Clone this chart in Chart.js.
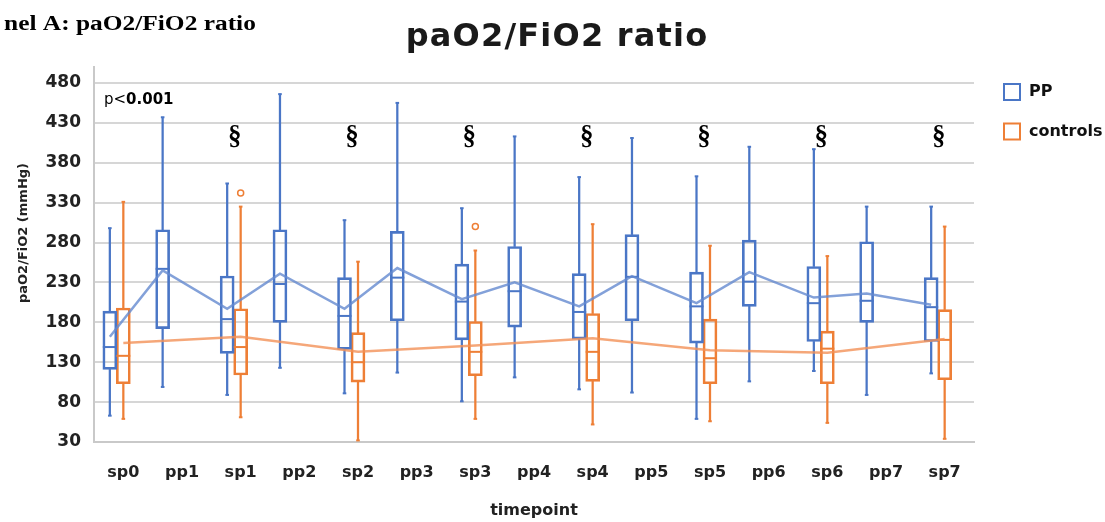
<!DOCTYPE html>
<html>
<head>
<meta charset="utf-8">
<script src="https://cdn.jsdelivr.net/npm/chart.js@4/dist/chart.umd.min.js"></script>
<style>
  body { margin: 0; background: #fff; }
  canvas { display: block; }
</style>
</head>
<body>
<canvas id="ratio-chart" width="1105" height="522"></canvas>
<script>
const timepoints = ["sp0", "pp1", "sp1", "pp2", "sp2", "pp3", "sp3", "pp4", "sp4", "pp5", "sp5", "pp6", "sp6", "pp7", "sp7"];

// PP group, one value per timepoint
const ppMin = [63, 99, 89, 123, 91, 117, 81, 111, 96, 92, 59, 106, 119, 89, 116];
const ppQ1 = [121, 172, 141, 180, 146, 182, 158, 174, 159, 182, 154, 200, 156, 180, 156];
const ppMedian = [149, 247, 184, 228, 188, 236, 206, 219, 193, 237, 200, 231, 204, 207, 199];
const ppQ3 = [194, 296, 238, 296, 236, 294, 253, 275, 241, 290, 243, 283, 250, 281, 236];
const ppMax = [298, 437, 354, 466, 308, 455, 323, 413, 362, 411, 363, 400, 397, 325, 325];
const ppMean = [162, 245, 197, 241, 197, 248, 209, 230, 200, 238, 204, 243, 211, 216, 202];

// controls, only at the sp timepoints
const ctrlTimepoints = ["sp0", "sp1", "sp2", "sp3", "sp4", "sp5", "sp6", "sp7"];
const ctrlMin = [59, 61, 32, 59, 52, 56, 54, 34];
const ctrlQ1 = [103, 114, 105, 113, 106, 103, 103, 108];
const ctrlMedian = [138, 149, 130, 143, 143, 135, 147, 158];
const ctrlQ3 = [198, 197, 167, 181, 191, 184, 169, 196];
const ctrlMax = [331, 325, 256, 270, 303, 276, 263, 300];
const ctrlMean = [154, 162, 143, 151, 160, 145, 142, 159];

const outlierTimepoints = ["sp1", "sp3"];
const outlierValues = [342, 300];

const sigTimepoints = ["sp1", "sp2", "sp3", "sp4", "sp5", "sp6", "sp7"];
const yTicks = [30, 80, 130, 180, 230, 280, 330, 380, 430, 480];

const BLUE = "#4a76c6";
const ORANGE = "#ee7f36";
const BLUE_LINE = "rgba(100, 138, 208, 0.8)";
const ORANGE_LINE = "rgba(242, 145, 88, 0.8)";

// excel puts the PP boxes a bit left of the tick, controls sit on it
function xPos(tp, group) {
   const i = timepoints.indexOf(tp);
   if (group === "controls") return i;
   return i + (tp.startsWith("pp") ? -0.33 : -0.23);
}

function boxDatasets(label, tps, min, q1, med, q3, max, mean, color, lineColor) {
   const xs = tps.map((tp) => xPos(tp, label));
   return [
      {
         type: "bar", label, legend: true, order: 3,
         data: xs.map((x, i) => ({ x, y: [q1[i], q3[i]] })),
         backgroundColor: "rgba(255,255,255,0)", borderColor: color,
         borderWidth: 2, borderSkipped: false, barThickness: 14, grouped: false,
      },
      {
         type: "bar", order: 4,
         data: xs.map((x, i) => ({ x, y: [min[i], q1[i]] })),
         backgroundColor: color, borderWidth: 0, barThickness: 1.6, grouped: false,
      },
      {
         type: "bar", order: 4,
         data: xs.map((x, i) => ({ x, y: [q3[i], max[i]] })),
         backgroundColor: color, borderWidth: 0, barThickness: 1.6, grouped: false,
      },
      {
         type: "line", order: 2, showLine: false,
         data: xs.flatMap((x, i) => [{ x, y: min[i] }, { x, y: max[i] }]),
         pointStyle: "line", pointRadius: 1.8, borderColor: color, borderWidth: 2,
      },
      {
         type: "line", order: 1, showLine: false,
         data: xs.map((x, i) => ({ x, y: med[i] })),
         pointStyle: "line", pointRadius: 7, borderColor: color, borderWidth: 2,
      },
      {
         type: "line", order: 0,
         data: xs.map((x, i) => ({ x, y: mean[i] })),
         borderColor: lineColor, borderWidth: 2.5, pointRadius: 0, tension: 0,
      },
   ];
}

const datasets = [
   ...boxDatasets("PP", timepoints, ppMin, ppQ1, ppMedian, ppQ3, ppMax, ppMean, BLUE, BLUE_LINE),
   ...boxDatasets("controls", ctrlTimepoints, ctrlMin, ctrlQ1, ctrlMedian, ctrlQ3, ctrlMax, ctrlMean, ORANGE, ORANGE_LINE),
   {
      type: "line", order: 2, showLine: false,
      data: outlierTimepoints.map((tp, i) => ({ x: xPos(tp, "controls"), y: outlierValues[i] })),
      pointStyle: "circle", pointRadius: 3, borderWidth: 1.5,
      borderColor: ORANGE, backgroundColor: "#fff",
   },
];

const annotations = {
   id: "annotations",
   afterDraw(chart) {
      const { ctx, chartArea, scales } = chart;
      ctx.save();

      // panel label (cropped in the source)
      ctx.save();
      ctx.scale(1.27, 1);
      ctx.font = "bold 20px 'Liberation Serif'";
      ctx.fillStyle = "#000";
      ctx.textBaseline = "alphabetic";
      ctx.textAlign = "left";
      ctx.fillText("nel A: paO2/FiO2 ratio", 4 / 1.27, 30);
      ctx.restore();

      // chart title
      ctx.font = "bold 32px 'DejaVu Sans'";
      ctx.letterSpacing = "1.2px";
      ctx.fillStyle = "#1a1a1a";
      ctx.textAlign = "center";
      ctx.fillText("paO2/FiO2 ratio", 557, 46);
      ctx.letterSpacing = "0px";

      // y axis title
      ctx.save();
      ctx.translate(24, 233);
      ctx.rotate(-Math.PI / 2);
      ctx.font = "bold 13px 'DejaVu Sans'";
      ctx.textBaseline = "middle";
      ctx.fillStyle = "#222";
      ctx.fillText("paO2/FiO2 (mmHg)", 0, 0);
      ctx.restore();

      // p value
      ctx.textAlign = "left";
      ctx.textBaseline = "middle";
      ctx.font = "15px 'DejaVu Sans'";
      ctx.fillStyle = "#000";
      const px = chartArea.left + 10;
      ctx.fillText("p<", px, 100);
      const w = ctx.measureText("p<").width;
      ctx.font = "bold 15px 'DejaVu Sans'";
      ctx.fillText("0.001", px + w, 100);

      // significance marks
      ctx.font = "bold 27px 'Liberation Serif'";
      ctx.textAlign = "center";
      for (const tp of sigTimepoints) {
         const x = scales.x.getPixelForValue(timepoints.indexOf(tp));
         ctx.fillText("\u00a7", x - 6, scales.y.getPixelForValue(412));
      }

      // legend
      ctx.font = "bold 16px 'DejaVu Sans'";
      ctx.textAlign = "left";
      let ly = 83;
      for (const ds of chart.data.datasets.filter((d) => d.legend)) {
         ctx.strokeStyle = ds.borderColor;
         ctx.lineWidth = 2;
         ctx.strokeRect(1004, ly + 1, 16, 16);
         ctx.fillStyle = "#111";
         ctx.fillText(ds.label, 1029, ly + 9);
         ly += 39.5;
      }
      ctx.restore();
   },
};

new Chart(document.getElementById("ratio-chart"), {
   type: "bar",
   data: { datasets },
   options: {
      responsive: false,
      animation: false,
      layout: { padding: { top: 67, right: 131, left: 0, bottom: 0 } },
      plugins: { legend: { display: false }, tooltip: { enabled: false } },
      scales: {
         x: {
            type: "linear",
            min: -0.5,
            max: 14.5,
            offset: false,
            afterBuildTicks: (scale) => {
               scale.ticks = timepoints.map((_, i) => ({ value: i }));
            },
            afterFit: (scale) => {
               scale.height = 80;
            },
            ticks: {
               callback: (v) => timepoints[v],
               autoSkip: false,
               maxRotation: 0,
               padding: 13,
               color: "#222",
               font: { family: "DejaVu Sans", weight: "bold", size: 16 },
            },
            grid: { display: false },
            border: { color: "#c9c9c9", width: 2 },
            title: {
               display: true,
               text: "timepoint",
               color: "#222",
               font: { family: "DejaVu Sans", weight: "bold", size: 16 },
               padding: { top: 0, bottom: 2 },
            },
         },
         y: {
            min: 30,
            max: 500,
            afterBuildTicks: (scale) => {
               scale.ticks = yTicks.map((v) => ({ value: v }));
            },
            afterFit: (scale) => {
               scale.width = 94;
            },
            ticks: {
               padding: 13,
               color: "#222",
               font: { family: "DejaVu Sans", weight: "bold", size: 17 },
            },
            grid: { color: "#d6d6d6", lineWidth: 2, drawTicks: false },
            border: { color: "#c9c9c9", width: 2 },
         },
      },
   },
   plugins: [annotations],
});
</script>
</body>
</html>
